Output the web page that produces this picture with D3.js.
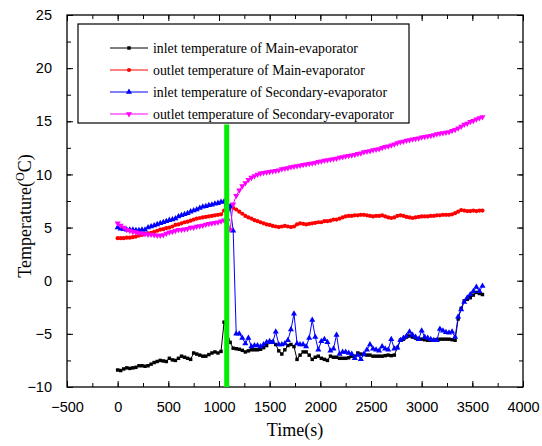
<!DOCTYPE html>
<html><head><meta charset="utf-8">
<script src="https://cdn.jsdelivr.net/npm/d3@7"></script>
<style>body{margin:0;background:#fff}</style>
</head><body>
<svg id="chart" width="542" height="446"></svg>
<script>
// sampling grid (s)
const time = d3.range(0, 3601, 30);

const inletMain = [
 -8.4,-8.45,-8.3,-8.2,-8.25,-8.2,-8.15,-8.0,-8.0,-8.05,
 -8.0,-7.85,-7.7,-7.6,-7.5,-7.55,-7.6,-7.3,-7.45,-7.5,
 -7.3,-7.1,-7.2,-7.3,-7.4,-6.8,-6.9,-7.0,-7.1,-7.1,
 -6.95,-6.8,-6.7,-6.8,-6.65,-3.9,-4.8,-5.8,-6.35,-6.4,
 -6.45,-6.55,-6.7,-6.6,-6.5,-6.5,-6.5,-6.45,-6.3,-6.1,
 -5.8,-5.75,-6.0,-6.6,-6.9,-6.5,-6.1,-6.0,-6.2,-7.4,
 -7.0,-6.7,-6.7,-7.0,-7.4,-7.2,-7.1,-7.3,-7.4,-7.5,
 -7.1,-7.2,-7.2,-7.3,-7.3,-7.3,-7.25,-7.1,-7.1,-6.8,
 -6.9,-6.95,-7.0,-7.0,-7.1,-7.1,-7.1,-7.1,-7.05,-7.0,
 -7.05,-7.0,-6.3,-5.6,-5.5,-5.3,-5.2,-5.3,-5.4,-5.5,
 -5.5,-5.55,-5.6,-5.6,-5.6,-5.55,-5.5,-5.5,-5.5,-5.5,
 -5.55,-5.6,-3.6,-2.6,-1.9,-1.75,-1.6,-1.35,-1.1,-1.2,
 -1.3];

const outletMain = [
 4.0,4.0,4.0,4.05,4.05,4.1,4.15,4.25,4.3,4.4,
 4.45,4.5,4.6,4.7,4.8,4.85,4.95,5.0,5.1,5.25,
 5.3,5.4,5.5,5.55,5.65,5.75,5.85,5.9,5.95,6.0,
 6.05,6.1,6.15,6.2,6.25,6.6,6.9,7.0,6.85,6.7,
 6.5,6.3,6.1,5.95,5.85,5.7,5.6,5.5,5.4,5.3,
 5.25,5.15,5.1,5.05,5.1,5.15,5.1,5.05,5.1,5.3,
 5.4,5.35,5.3,5.35,5.4,5.45,5.5,5.5,5.6,5.6,
 5.65,5.75,5.75,5.85,5.95,6.05,6.1,6.1,6.15,6.15,
 6.2,6.2,6.15,6.1,6.05,6.1,6.1,6.15,6.05,5.95,
 5.9,5.95,6.1,6.15,6.1,6.0,5.95,5.9,5.95,6.0,
 6.05,6.05,6.05,6.1,6.1,6.15,6.15,6.2,6.2,6.2,
 6.25,6.35,6.5,6.65,6.6,6.55,6.55,6.6,6.55,6.6,
 6.6];

const inletSecondary = [
 5.0,4.9,4.85,4.8,4.8,4.8,4.75,4.75,4.8,4.8,
 5.0,5.1,5.2,5.3,5.4,5.5,5.6,5.7,5.75,5.85,
 6.05,6.15,6.25,6.35,6.5,6.6,6.7,6.85,6.95,7.0,
 7.1,7.15,7.25,7.3,7.4,7.45,5.8,7.0,4.7,-5.0,
 -5.0,-5.4,-5.9,-5.4,-6.2,-6.1,-6.1,-6.2,-6.0,-5.8,
 -5.7,-5.8,-4.8,-6.0,-6.0,-5.9,-5.6,-4.6,-3.1,-5.9,
 -6.0,-6.0,-6.2,-5.4,-3.7,-5.3,-6.5,-5.7,-5.5,-5.8,
 -6.6,-6.4,-5.1,-6.9,-6.7,-6.7,-6.8,-6.9,-7.3,-7.0,
 -7.4,-6.9,-6.5,-6.0,-6.4,-6.5,-6.6,-6.2,-6.4,-6.5,
 -5.5,-6.4,-6.3,-5.6,-5.4,-5.2,-4.8,-5.1,-5.3,-5.5,
 -4.7,-5.3,-5.4,-5.5,-5.6,-5.6,-4.55,-4.7,-4.85,-4.9,
 -4.8,-5.3,-3.4,-2.7,-2.0,-1.6,-1.3,-1.0,-0.6,-1.0,
 -0.5];

const outletSecondary = [
 5.4,5.2,5.0,4.8,4.7,4.6,4.55,4.5,4.45,4.4,
 4.35,4.35,4.3,4.25,4.25,4.3,4.45,4.55,4.6,4.7,
 4.8,4.8,4.85,4.9,5.0,5.0,5.1,5.15,5.2,5.3,
 5.35,5.4,5.45,5.5,5.6,5.7,5.7,4.8,7.2,8.0,
 8.5,8.9,9.2,9.5,9.7,9.85,10.0,10.1,10.15,10.2,
 10.25,10.3,10.35,10.4,10.5,10.55,10.6,10.7,10.75,10.8,
 10.85,10.9,10.95,11.0,11.05,11.1,11.2,11.25,11.3,11.35,
 11.4,11.45,11.5,11.6,11.65,11.7,11.75,11.8,11.85,11.95,
 12.0,12.1,12.15,12.2,12.3,12.35,12.4,12.5,12.6,12.65,
 12.75,12.85,12.95,13.05,13.1,13.2,13.25,13.3,13.35,13.4,
 13.5,13.55,13.6,13.65,13.7,13.8,13.85,13.9,13.95,14.0,
 14.1,14.2,14.35,14.5,14.7,14.8,14.95,15.05,15.2,15.3,
 15.4];

const seriesNames = [
 "inlet temperature of Main-evaporator",
 "outlet temperature of Main-evaporator",
 "inlet temperature of Secondary-evaporator",
 "outlet temperature of Secondary-evaporator"];
const seriesColors = ["#000000","#ff0000","#0000ff","#ff00ff"];
const xTicks = [-500,0,500,1000,1500,2000,2500,3000,3500,4000];
const yTicks = [-10,-5,0,5,10,15,20,25];
const switchTime = [1076];
const switchRange = [-10, 14.7];

const series = [
 {name: seriesNames[0], color: seriesColors[0], values: inletMain, sym: d3.symbolSquare, size: 12, rot: 0},
 {name: seriesNames[1], color: seriesColors[1], values: outletMain, sym: d3.symbolCircle, size: 14, rot: 0},
 {name: seriesNames[2], color: seriesColors[2], values: inletSecondary, sym: d3.symbolTriangle, size: 16, rot: 0},
 {name: seriesNames[3], color: seriesColors[3], values: outletSecondary, sym: d3.symbolTriangle, size: 16, rot: 180}
];

const svg = d3.select("#chart");
const L = 67, R = 523, T = 15, B = 387;
const x = d3.scaleLinear().domain([-500, 4000]).range([L, R]);
const y = d3.scaleLinear().domain([-10, 25]).range([B, T]);

const tickFont = "'Liberation Sans', Arial, sans-serif";
const serif = "'Liberation Serif', 'Times New Roman', serif";

const xMinor = d3.range(-500, 4001, 250);
const yMinor = d3.range(-10, 25.01, 2.5);

function styleAxis(g){
  g.select(".domain").remove();
  g.selectAll("line").attr("stroke","#000").attr("stroke-width",1);
}
// bottom
svg.append("g").attr("transform",`translate(0,${B})`)
  .call(d3.axisBottom(x).tickValues(xMinor).tickSize(-4).tickFormat(""))
  .call(styleAxis);
svg.append("g").attr("transform",`translate(0,${B})`)
  .call(d3.axisBottom(x).tickValues(xTicks).tickSize(-6).tickPadding(15).tickFormat(d3.format("d")))
  .call(styleAxis)
  .call(g=>g.selectAll("text").attr("font-family",tickFont).attr("font-size",14.5).attr("fill","#000"));
// top
svg.append("g").attr("transform",`translate(0,${T})`)
  .call(d3.axisTop(x).tickValues(xMinor).tickSize(-4).tickFormat("")).call(styleAxis);
svg.append("g").attr("transform",`translate(0,${T})`)
  .call(d3.axisTop(x).tickValues(xTicks).tickSize(-6).tickFormat("")).call(styleAxis);
// left
svg.append("g").attr("transform",`translate(${L},0)`)
  .call(d3.axisLeft(y).tickValues(yMinor).tickSize(-4).tickFormat("")).call(styleAxis);
svg.append("g").attr("transform",`translate(${L},0)`)
  .call(d3.axisLeft(y).tickValues(yTicks).tickSize(-6).tickPadding(15).tickFormat(d3.format("d")))
  .call(styleAxis)
  .call(g=>g.selectAll("text").attr("font-family",tickFont).attr("font-size",14.5).attr("fill","#000"));
// right
svg.append("g").attr("transform",`translate(${R},0)`)
  .call(d3.axisRight(y).tickValues(yMinor).tickSize(-4).tickFormat("")).call(styleAxis);
svg.append("g").attr("transform",`translate(${R},0)`)
  .call(d3.axisRight(y).tickValues(yTicks).tickSize(-6).tickFormat("")).call(styleAxis);

// frame
svg.append("rect").attr("x",L).attr("y",T).attr("width",R-L).attr("height",B-T)
  .attr("fill","none").attr("stroke","#000").attr("stroke-width",1.3);

// series
const line = d3.line().x((d,i)=>x(time[i])).y(d=>y(d));
series.forEach(s=>{
  svg.append("path").datum(s.values).attr("d",line)
    .attr("fill","none").attr("stroke",s.color).attr("stroke-width",1);
  const sym = d3.symbol().type(s.sym).size(s.size);
  svg.append("g").selectAll("path").data(s.values).join("path")
    .attr("d",sym)
    .attr("transform",(d,i)=>`translate(${x(time[i])},${y(d)}) rotate(${s.rot})`)
    .attr("fill",s.color);
});

// green switch line
svg.append("line")
  .attr("x1",x(switchTime[0])).attr("x2",x(switchTime[0]))
  .attr("y1",y(switchRange[1])).attr("y2",y(switchRange[0]))
  .attr("stroke","#00ee00").attr("stroke-width",5);

// legend
const lg = svg.append("g");
lg.append("rect").attr("x",78).attr("y",24).attr("width",331).attr("height",99)
  .attr("fill","#fff").attr("stroke","#000").attr("stroke-width",1.2);
const rowY = [48, 70, 92, 114];
series.forEach((s,i)=>{
  lg.append("line").attr("x1",110).attr("x2",148).attr("y1",rowY[i]).attr("y2",rowY[i])
    .attr("stroke",s.color).attr("stroke-width",1);
  lg.append("path").attr("d",d3.symbol().type(s.sym).size(s.size))
    .attr("transform",`translate(129,${rowY[i]}) rotate(${s.rot})`).attr("fill",s.color);
  lg.append("text").attr("x",153).attr("y",rowY[i]+4.5)
    .attr("font-family",serif).attr("font-size",13.8).attr("fill","#000").text(s.name);
});

// axis titles
svg.append("text").attr("x",(L+R)/2).attr("y",436).attr("text-anchor","middle")
  .attr("font-family",serif).attr("font-size",18).text("Time(s)");
const yt = svg.append("text").attr("transform","translate(31,216) rotate(-90)")
  .attr("text-anchor","middle").attr("font-family",serif).attr("font-size",18);
yt.append("tspan").text("Temperature(");
yt.append("tspan").attr("font-size",12).attr("dy",-7).text("O");
yt.append("tspan").attr("dy",7).text("C)");
</script>
</body></html>
